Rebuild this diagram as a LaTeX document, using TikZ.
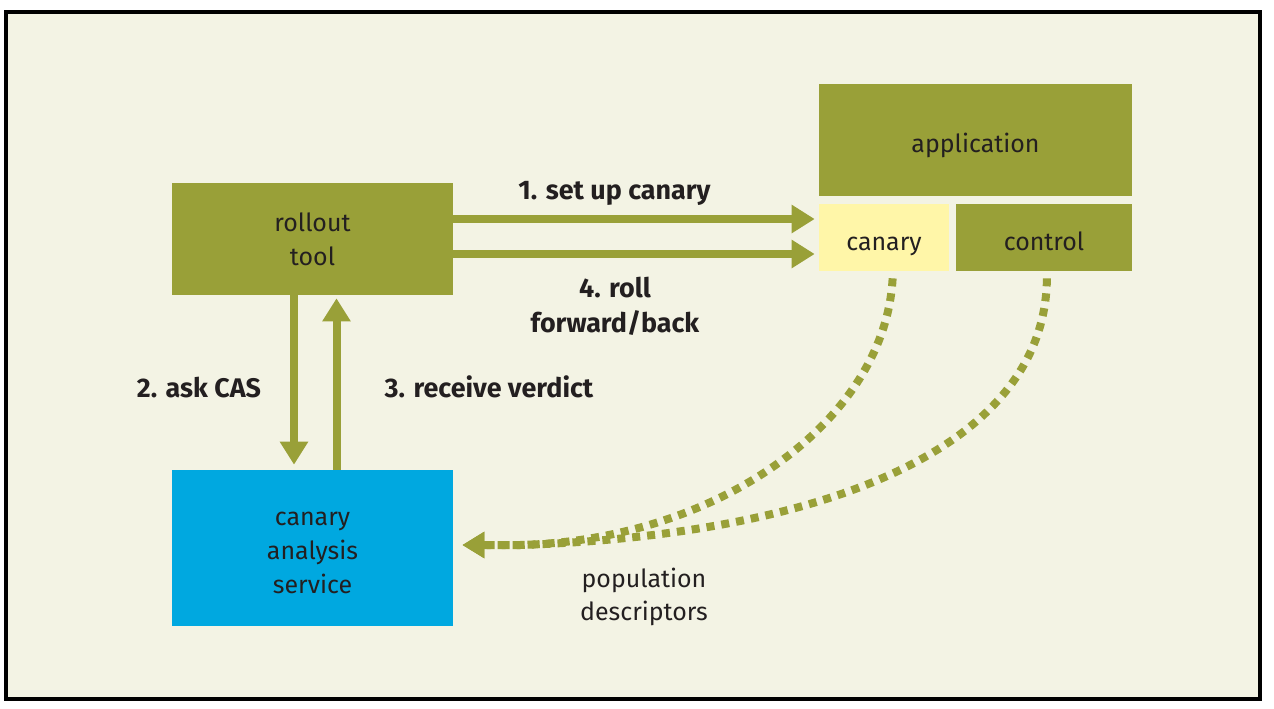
\documentclass[tikz,border=0pt]{standalone}
\usepackage{fontspec}
\setmainfont{Fira Sans}
\usetikzlibrary{arrows.meta,positioning}
\definecolor{boxolive}{RGB}{153,160,56}
\definecolor{papercream}{RGB}{243,243,228}
\definecolor{canaryyellow}{RGB}{255,246,168}
\definecolor{casblue}{RGB}{0,168,224}
\definecolor{inkdark}{RGB}{35,31,32}

\begin{document}
\begin{tikzpicture}[x=0.02cm, y=-0.02cm,
		box/.style = {fill=boxolive, inner sep=0pt, text=inkdark, font=\fontsize{14.2}{19.3}\selectfont, align=center},
		oneline/.style = {text height=0.5cm, text depth=0cm},
		lbl/.style = {text=inkdark, font=\fontsize{15.3}{19.8}\selectfont\bfseries, align=center},
		plain/.style = {text=inkdark, font=\fontsize{14.2}{18.7}\selectfont, align=center},
		fat/.style = {draw=boxolive, line width=0.16cm, -{Triangle[length=0.46cm, width=0.54cm]}},
		dots/.style = {draw=boxolive, line width=0.16cm, dash pattern=on 0.16cm off 0.14cm, -{Triangle[length=0.44cm, width=0.5cm]}}]
		\useasboundingbox (0,0) rectangle (1274,708);
		\fill[white] (0,0) rectangle (1274,708);
		\draw[line width=0.086cm, fill=papercream] (6,12) rectangle (1260,699);
		% boxes
		\node[box, minimum width=5.62cm, minimum height=2.24cm] (rollout) at (312.5,239) {rollout\\tool};
		\node[box, oneline, minimum width=6.26cm, minimum height=2.24cm] (app) at (975.5,140) {application};
		\node[box, oneline, fill=canaryyellow, minimum width=2.6cm, minimum height=1.34cm] (canary) at (884,237.5) {canary};
		\node[box, oneline, minimum width=3.52cm, minimum height=1.34cm] (control) at (1044,237.5) {control};
		\node[box, fill=casblue, minimum width=5.62cm, minimum height=3.12cm] (cas) at (312.5,548) {};
		\node[box, fill=none] (castext) at ([yshift=-0.1cm]cas.center) {canary\\analysis\\service};
		% solid arrows
		\draw[fat, shorten >=0.08cm] (rollout.east |- 0,219) -- (canary.west |- 0,219);
		\draw[fat, shorten >=0.08cm] (rollout.east |- 0,254) -- (canary.west |- 0,254);
		\draw[fat, shorten >=0.1cm] (rollout.south -| 294,0) -- (cas.north -| 294,0);
		\draw[fat, shorten >=0.06cm] (cas.north -| 336.5,0) -- (rollout.south -| 336.5,0);
		% dotted arrows
		\draw[dots, shorten <=0.14cm, shorten >=0.18cm] ([xshift=0.18cm]canary.south) .. controls (885,420) and (720,540) .. (520,545) -- ([yshift=0.06cm]cas.east);
		\draw[dots, shorten <=0.14cm, shorten >=0.18cm] ([xshift=0.06cm]control.south) .. controls (1045,450) and (820,535) .. (520,545) -- ([yshift=0.06cm]cas.east);
		% labels
		\node[lbl, anchor=base] (setup) at (614.5,199) {1. set up canary};
		\node[lbl] (rollback) at (615,306) {4. roll\\forward/back};
		\node[lbl, anchor=base] (ask) at (199,397) {2. ask CAS};
		\node[lbl, anchor=base] (verdict) at (489,397) {3. receive verdict};
		\node[plain] (pop) at (644,597) {population\\descriptors};
	\end{tikzpicture}
\end{document}
